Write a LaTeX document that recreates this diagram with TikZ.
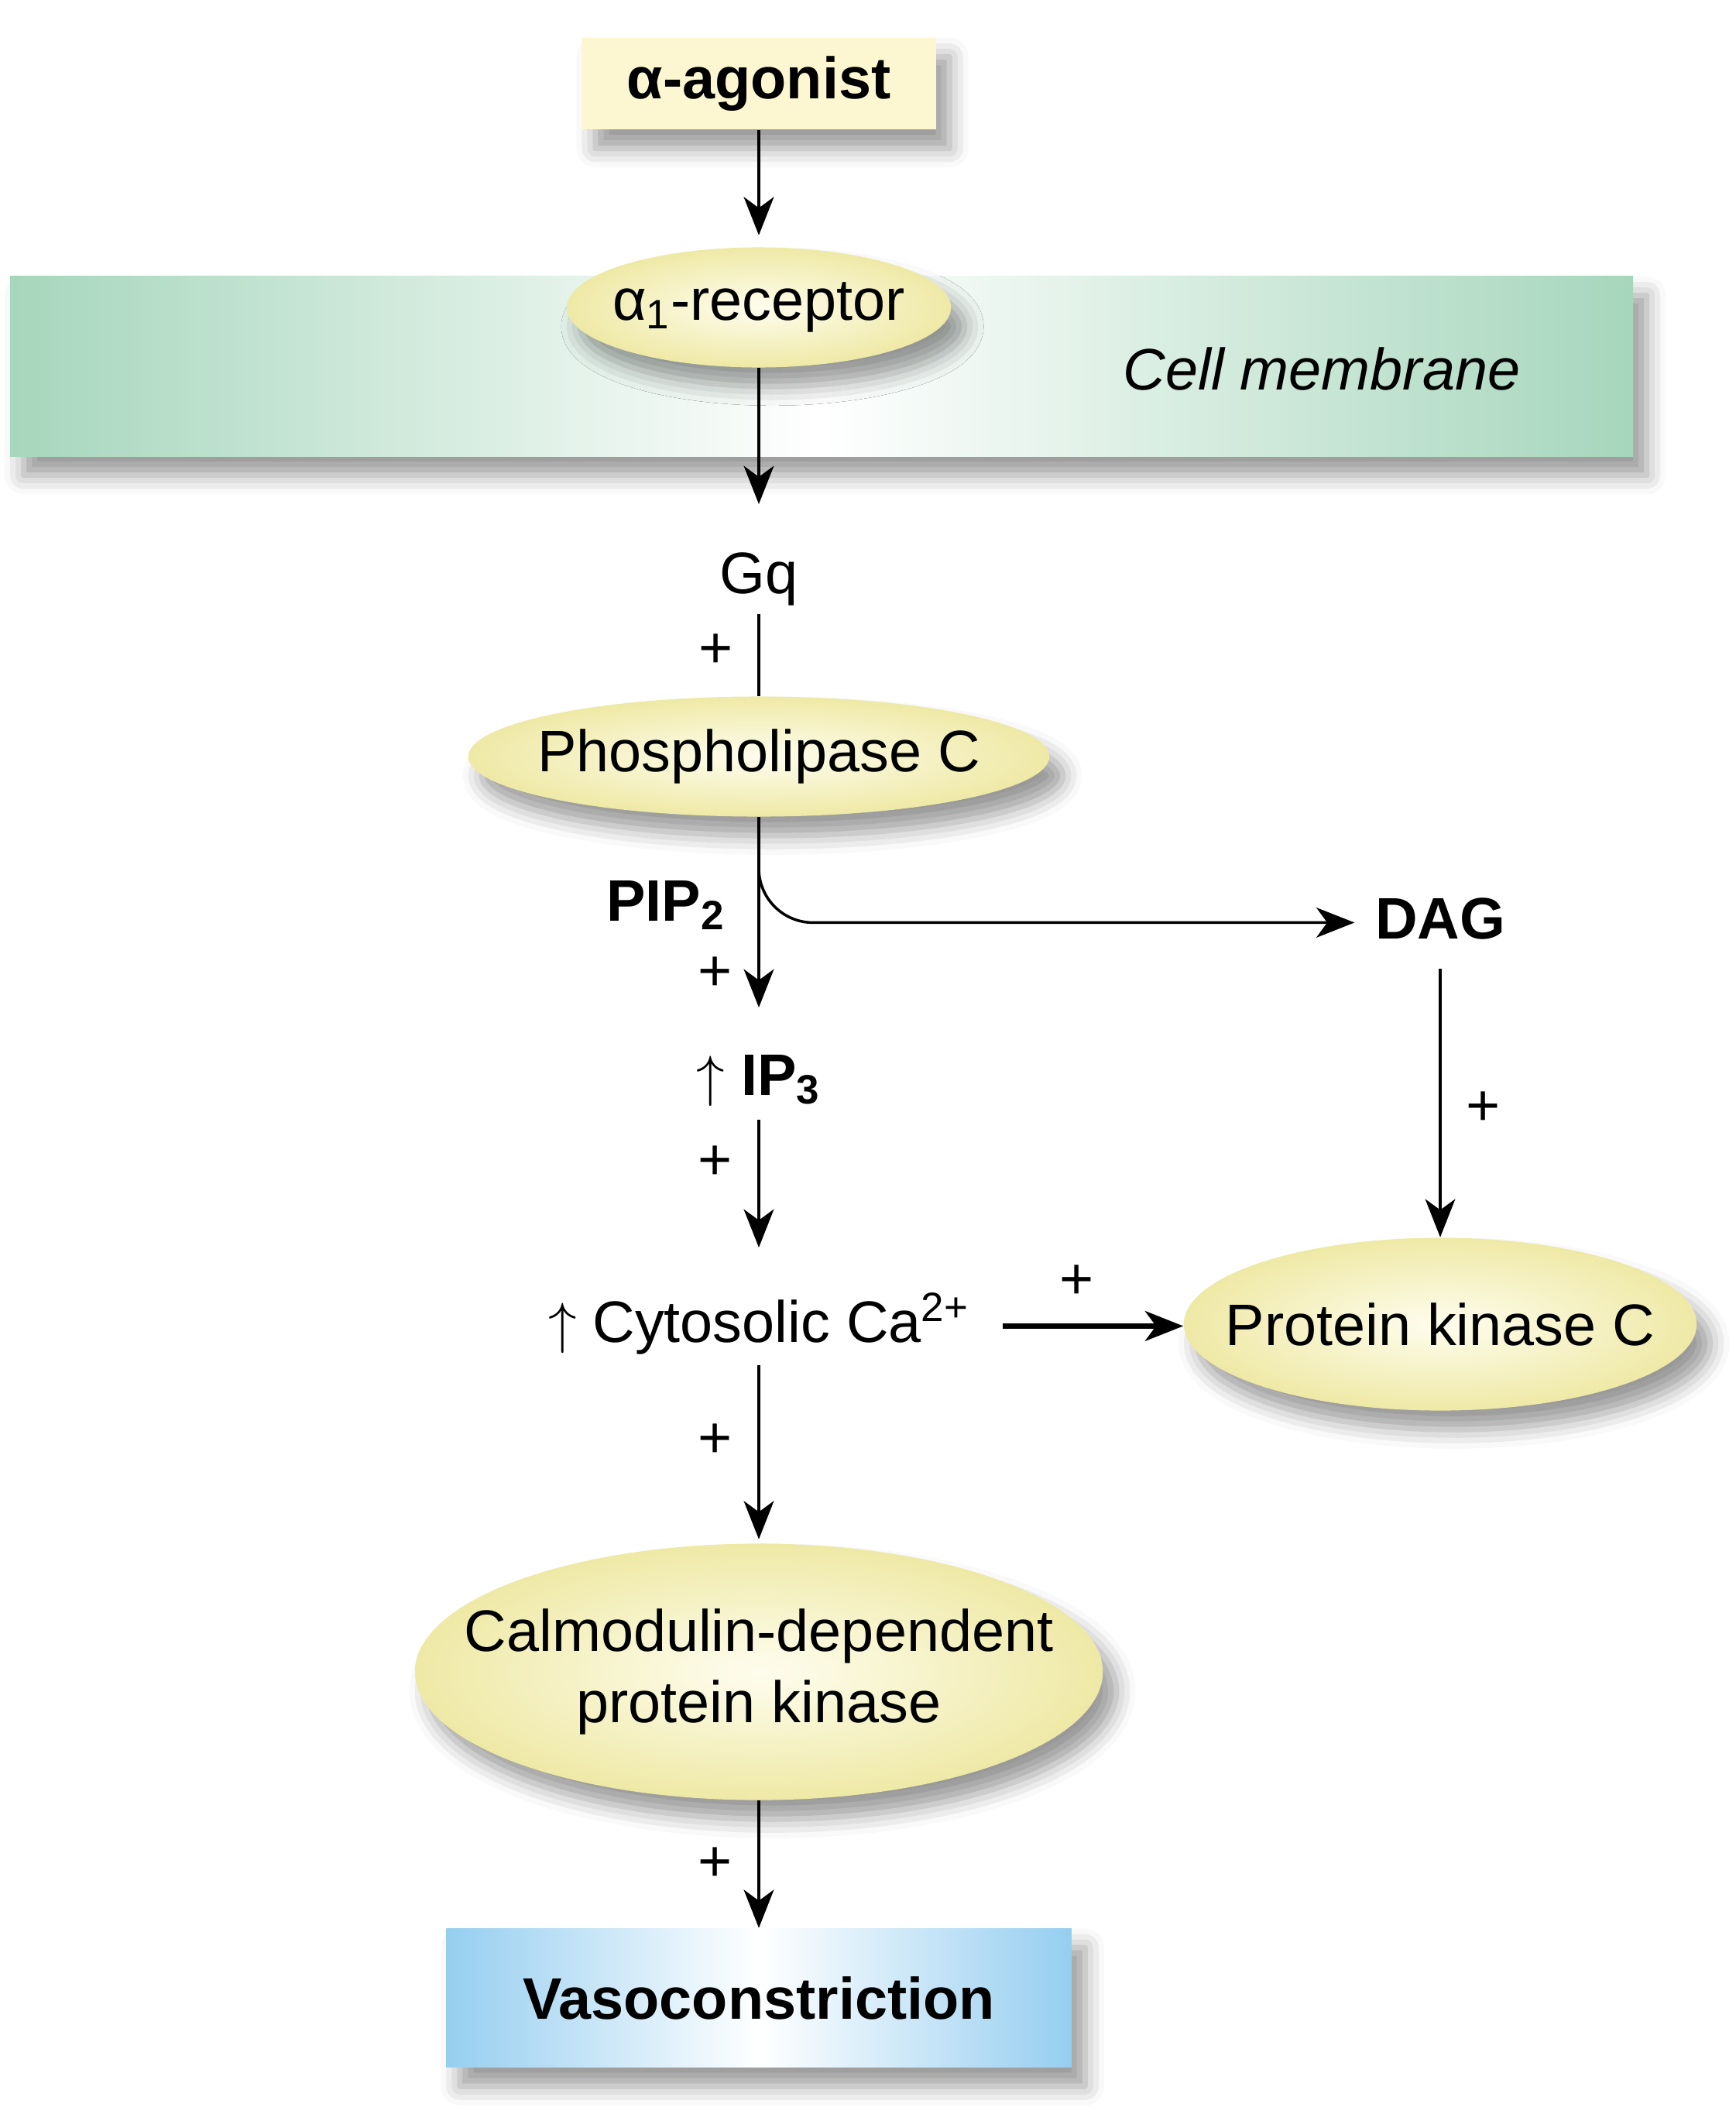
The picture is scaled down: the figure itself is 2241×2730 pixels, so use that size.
\documentclass[tikz,border=0pt]{standalone}
\usepackage{fontspec}
\setmainfont{Liberation Sans}
\usepackage{xcolor}
\usetikzlibrary{shapes.geometric, arrows.meta, shadows.blur}

\definecolor{memgreen}{RGB}{166,214,188}
\definecolor{enzyellow}{RGB}{239,233,166}
\definecolor{enzcream}{RGB}{254,253,238}
\definecolor{boxyellow}{RGB}{252,247,208}
\definecolor{vasoblue}{RGB}{150,206,240}

\tikzset{
  lbl/.style={inner sep=0pt, text height=16pt, text depth=4.3pt, anchor=base},
  softshadow/.style={blur shadow={shadow xshift=5pt, shadow yshift=-7pt, shadow blur radius=7pt, shadow opacity=40}},
  enzyme/.style={ellipse, inner xsep=-1.2cm, inner ysep=0pt, inner color=enzcream, outer color=enzyellow, softshadow},
  plus/.style={inner sep=0pt},
  sig/.style={line width=1.3pt, -{Stealth[length=14pt, width=11pt, inset=4pt]}},
}

\begin{document}
\begin{tikzpicture}[x=0.01cm, y=-0.01cm, font=\fontsize{21.5}{26}\selectfont]
\useasboundingbox (0,0) rectangle (2241,2730);

        % Cell membrane band
        \node[rectangle, minimum width=20.95cm, minimum height=2.32cm,
              left color=memgreen, right color=memgreen, middle color=white, softshadow] (mem) at (1061,473) {};
        \node[lbl] (memtxt) at (1707,503) {\textit{Cell membrane}};

        % Agonist and receptor
        \node[rectangle, minimum width=4.57cm, minimum height=1.18cm, fill=boxyellow, softshadow] (ag) at (980,108) {\textbf{α-agonist}};
        \node[enzyme, minimum width=4.96cm, minimum height=1.55cm] (rec) at (980,397) {α\textsubscript{1}-receptor};

        % Main column
        \node[lbl] (gq) at (980,766) {Gq};
        \node[enzyme, minimum width=7.5cm, minimum height=1.55cm] (plc) at (980,977) {Phospholipase C};
        \node[lbl, anchor=base east] (pip) at (937,1189) {\textbf{PIP\textsubscript{2}}};
        \node[lbl] (ip) at (980,1414) {$\uparrow$ \textbf{IP\textsubscript{3}}};
        \node[lbl] (ca) at (980,1733) {$\uparrow$ Cytosolic Ca\textsuperscript{2+}};
        \node[enzyme, minimum width=8.88cm, minimum height=3.31cm, align=center] (cam) at (980,2159) {Calmodulin-dependent\\protein kinase};
        \node[rectangle, minimum width=8.07cm, minimum height=1.79cm,
              left color=vasoblue, right color=vasoblue, middle color=white, softshadow] (vaso) at (980,2580) {\textbf{Vasoconstriction}};

        % Right column
        \node[lbl] (dag) at (1860,1212) {\textbf{DAG}};
        \node[enzyme, minimum width=6.62cm, minimum height=2.23cm] (pkc) at (1860,1710) {Protein kinase C};

        % Arrows down the main column
        \draw[sig, shorten >=0.15cm] (ag) -- (rec);
        \draw[sig, shorten >=0.58cm] (rec) -- (gq);
        \draw[line width=1pt, shorten <=0.11cm] (gq) -- (plc) node[plus, midway, left=9pt] {+};
        \draw[sig, shorten >=0.56cm] (plc) -- (ip) node[plus, pos=0.67, left=9pt] {+};
        \draw[sig, shorten <=0.16cm, shorten >=0.65cm] (ip) -- (ca) node[plus, pos=0.29, left=9pt] {+};
        \draw[sig, shorten <=0.14cm, shorten >=0.05cm] (ca) -- (cam) node[plus, pos=0.46, left=9pt] {+};
        \draw[sig] (cam) -- (vaso) node[plus, midway, left=9pt] {+};

        % Branch to DAG and on to protein kinase C
        \draw[sig, line width=1pt, rounded corners=0.7cm, shorten >=0.26cm] (plc.south) |- (dag.west);
        \draw[sig, line width=1pt, shorten <=0.23cm] (dag) -- (pkc) node[plus, pos=0.55, right=9pt] {+};
        \draw[sig, line width=1.8pt, shorten <=0.42cm] (ca.east) -- (ca.east -| pkc.west) node[plus, midway, above=9pt] {+};
    \end{tikzpicture}
\end{document}
